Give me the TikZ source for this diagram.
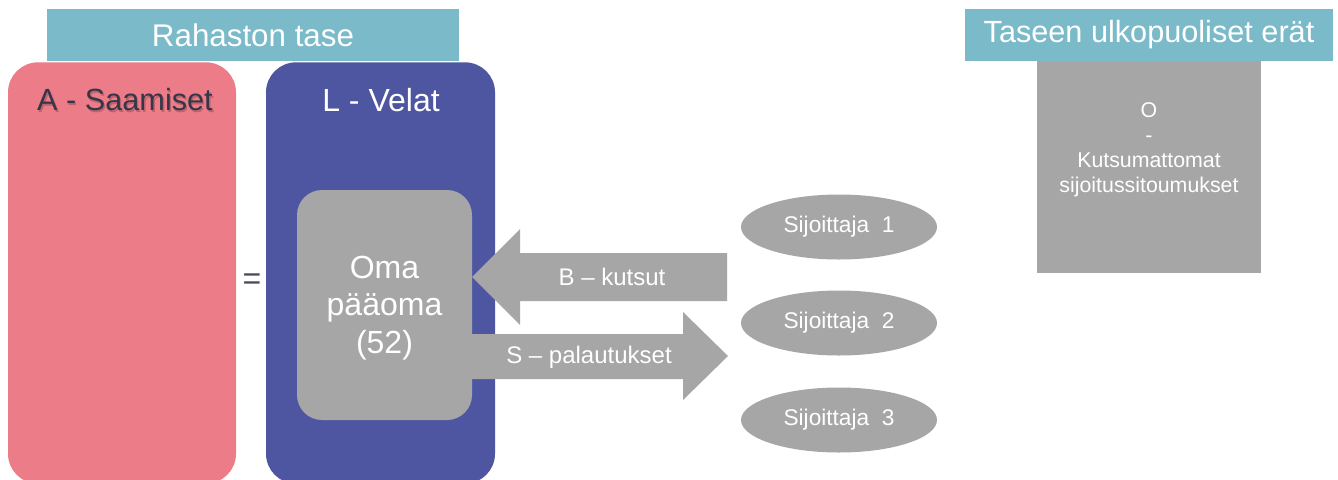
\documentclass[tikz,border=0pt]{standalone}
\usepackage{fontspec}
\setmainfont{Liberation Sans}
\usetikzlibrary{shapes.geometric}
\definecolor{hdrc}{HTML}{7BBAC9}
\definecolor{pinkc}{HTML}{EC7C87}
\definecolor{bluec}{HTML}{4F56A1}
\definecolor{grayc}{HTML}{A6A6A6}
\definecolor{darkt}{HTML}{36364A}
\begin{document}
\begin{tikzpicture}[x=0.75pt,y=-0.75pt,
  hdr/.style={fill=hdrc, text=white, inner sep=0pt, font=\fontsize{23.5}{28}\selectfont},
  colbox/.style={rounded corners=22.5pt, inner sep=0pt, minimum width=171pt, minimum height=316pt},
  bigtxt/.style={font=\fontsize{24}{28}\selectfont, inner sep=0pt},
  invest/.style={ellipse, fill=grayc, text=white, inner sep=0pt, minimum width=147pt, minimum height=48.75pt, font=\fontsize{17}{21}\selectfont},
  blockarrow/.style={fill=grayc},
  arrowtxt/.style={text=white, inner sep=0pt, font=\fontsize{18}{22}\selectfont}
]
\useasboundingbox (0,0) rectangle (1338,479);
\clip (0,0) rectangle (1338,479);
\fill[white] (0,0) rectangle (1338,479);

% headers
\node[hdr, minimum width=309pt, minimum height=39pt] (t1) at (253,35) {Rahaston tase};
\node[hdr, minimum width=276pt, minimum height=39pt, font=\fontsize{23}{28}\selectfont] (t2) at (1149,35) {Taseen ulkopuoliset erät};

% column boxes
\node[colbox, fill=pinkc] (A) at (122,273) {};
\node[colbox, fill=bluec, minimum width=171.75pt] (L) at (380.5,273) {};
\node[bigtxt, text=black, opacity=0.2, font=\fontsize{23}{28}\selectfont] at (126.3,101.3) {A - Saamiset};
\node[bigtxt, text=darkt, font=\fontsize{23}{28}\selectfont] (Atxt) at (125,100) {A - Saamiset};
\node[bigtxt, text=white] (Ltxt) at (381,100) {L - Velat};
\node[bigtxt, text=darkt!90] (eq) at (252,282) {=};

% equity box
\node[fill=grayc, rounded corners=18.75pt, inner sep=0pt, minimum width=131.25pt, minimum height=172.5pt] (oma) at (384.5,305) {};
\node[bigtxt, text=white, align=center] (omatxt) at (384.5,308) {Oma\\pääoma\\(52)};

% block arrows
\fill[blockarrow] (727,253) -- (520,253) -- (520,229) -- (472,277) -- (520,325) -- (520,301) -- (727,301) -- cycle;
\fill[blockarrow] (472,334) -- (683,334) -- (683,312) -- (728,356) -- (683,400) -- (683,379) -- (472,379) -- cycle;
\node[arrowtxt] (btxt) at (612,277) {B – kutsut};
\node[arrowtxt] (stxt) at (589,357) {S – palautukset};

% investors
\node[invest] (s1) at (839,227) {Sijoittaja\ \ 1};
\node[invest] (s2) at (839,323) {Sijoittaja\ \ 2};
\node[invest] (s3) at (839,420) {Sijoittaja\ \ 3};

% off-balance box
\node[fill=grayc, inner sep=0pt, minimum width=168pt, minimum height=159pt] (O) at (1149,167) {};
\node[text=white, align=center, inner sep=0pt, font=\fontsize{16}{18.75}\selectfont] (Otxt) at (1149,150) {O\\-\\Kutsumattomat\\sijoitussitoumukset};
\end{tikzpicture}
\end{document}
